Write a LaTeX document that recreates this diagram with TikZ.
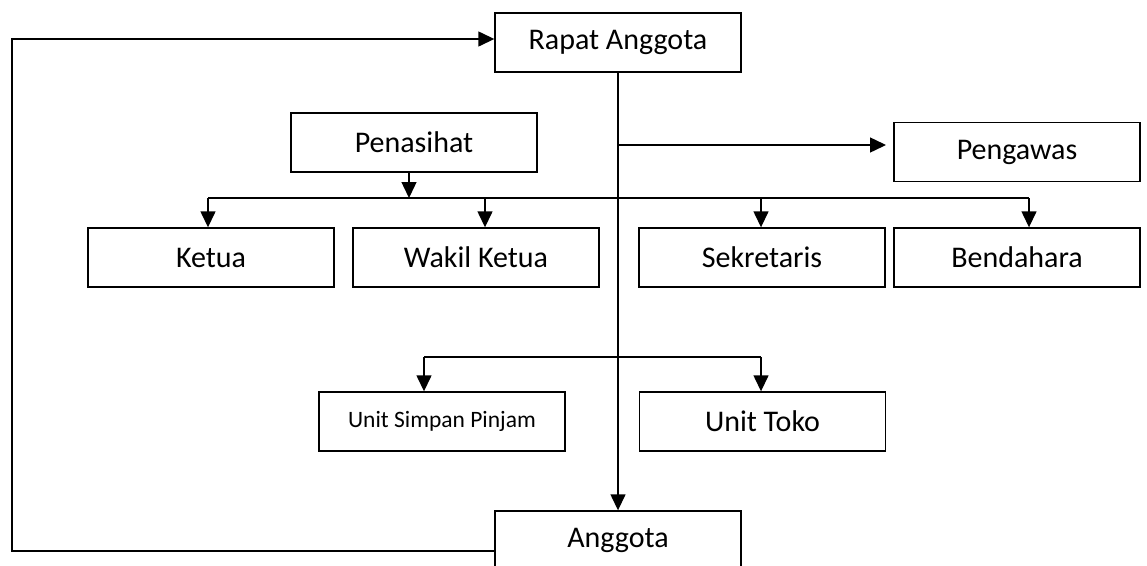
\documentclass[tikz,border=0pt]{standalone}
\usepackage{fontspec}
\setmainfont{Carlito}
\usetikzlibrary{arrows.meta}
\begin{document}
\begin{tikzpicture}[x=1pt,y=-1pt,
  box/.style={draw,line width=1.4pt,rectangle,minimum width=246pt,minimum height=59pt,inner sep=0pt,font=\fontsize{30}{35}\selectfont},
  smallbox/.style={box,font=\fontsize{23.5}{28}\selectfont},
  ln/.style={line width=1.4pt},
  arr/.style={ln,-{Triangle[length=16pt,width=15pt]}}]
\useasboundingbox (0,0) rectangle (1147,565);
\node[box] (Rapat) at (618,42.5) {Rapat Anggota};
\node[box] (Penasihat) at (414,142.5) {Penasihat};
\node[box] (Pengawas) at (1017,152) {Pengawas};
\node[box] (Ketua) at (211,257.5) {Ketua};
\node[box] (Wakil) at (476,257.5) {Wakil Ketua};
\node[box] (Sekretaris) at (762,257.5) {Sekretaris};
\node[box] (Bendahara) at (1017,257.5) {Bendahara};
\node[smallbox] (USP) at (442,421.5) {Unit Simpan Pinjam};
\node[box] (Toko) at (762.5,421.5) {Unit Toko};
\node[box] (Anggota) at (618,540.5) {Anggota};
% trunk
\draw[arr] (Rapat.south) -- (Anggota.north);
% pengawas
\coordinate (pw) at (886,145);
\draw[arr] (Rapat.south |- pw) -- (pw);
% penasihat branch
\coordinate (hb) at (409,198);
\coordinate (kx) at (208,198);
\coordinate (wx) at (485,198);
\coordinate (sx) at (761,198);
\coordinate (bx) at (1029,198);
\draw[arr] (Penasihat.south -| hb) -- (hb);
\draw[ln] (kx) -- (bx);
\draw[arr] (kx) -- (kx |- Ketua.north);
\draw[arr] (wx) -- (wx |- Wakil.north);
\draw[arr] (sx) -- (sx |- Sekretaris.north);
\draw[arr] (bx) -- (bx |- Bendahara.north);
% units
\coordinate (ux) at (424,357);
\coordinate (tx) at (761,357);
\draw[ln] (ux) -- (tx);
\draw[arr] (ux) -- (ux |- USP.north);
\draw[arr] (tx) -- (tx |- Toko.north);
% feedback
\coordinate (fb) at (12,551);
\coordinate (ft) at (12,39);
\draw[arr] (Anggota.west |- fb) -- (fb) -- (ft) -- (Rapat.west |- ft);
\end{tikzpicture}
\end{document}
